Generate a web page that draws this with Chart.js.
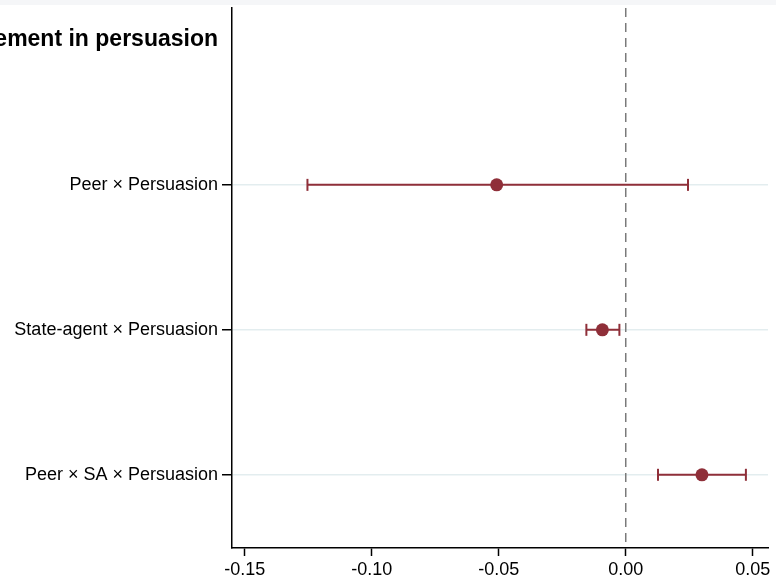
<!DOCTYPE html>
<html>
<head>
<meta charset="utf-8">
<script src="https://cdn.jsdelivr.net/npm/chart.js@4"></script>
<style>
  html, body { margin: 0; padding: 0; background: #fff; }
  #wrap { width: 776px; height: 579px; }
</style>
</head>
<body>
<div id="wrap"><canvas id="graficoCoef" width="776" height="579"></canvas></div>
<script>
// dados do gráfico
var groupLabel = 'Engagement in persuasion';
var terms = ['Peer × Persuasion', 'State-agent × Persuasion', 'Peer × SA × Persuasion'];
var estimates = [-0.0508, -0.0092, 0.0300];
var lower = [-0.1253, -0.0155, 0.0127];
var upper = [0.0245, -0.0025, 0.0473];
var xTicks = [-0.15, -0.10, -0.05, 0.00, 0.05];

var red = '#8f2f39';
var fonte = 'Liberation Sans, Arial, sans-serif';

// uma linha de intervalo por termo
var datasets = [];
terms.forEach(function (t, i) {
    datasets.push({
        label: t + ' CI',
        data: [{ x: lower[i], y: i + 1 }, { x: upper[i], y: i + 1 }],
        showLine: true,
        borderColor: red,
        borderWidth: 2,
        pointStyle: 'line',
        rotation: 90,
        pointRadius: 6,
        pointBorderWidth: 2,
        pointBorderColor: red
    });
});
datasets.push({
    label: 'Estimate',
    data: estimates.map(function (v, i) { return { x: v, y: i + 1 }; }),
    showLine: false,
    pointRadius: 6.5,
    backgroundColor: red,
    borderColor: red,
    borderWidth: 0
});

// linha tracejada no zero + fundo
var zeroLine = {
    id: 'zeroLine',
    beforeDraw: function (chart) {
        var c = chart.ctx;
        c.save();
        c.fillStyle = '#ffffff';
        c.fillRect(0, 0, chart.width, chart.height);
        c.fillStyle = '#f5f6f8';
        c.fillRect(0, 0, chart.width, 5);
        c.restore();
    },
    beforeDatasetsDraw: function (chart) {
        var c = chart.ctx, a = chart.chartArea;
        var x = chart.scales.x.getPixelForValue(0);
        c.save();
        c.strokeStyle = '#7a7a7a';
        c.lineWidth = 1.5;
        c.setLineDash([9, 6]);
        c.beginPath();
        c.moveTo(x, a.top);
        c.lineTo(x, a.bottom);
        c.stroke();
        c.restore();
    }
};

var ctx = document.getElementById('graficoCoef').getContext('2d');
new Chart(ctx, {
    type: 'scatter',
    data: { datasets: datasets },
    plugins: [zeroLine],
    options: {
        responsive: false,
        animation: false,
        layout: { padding: { top: 6, right: 4, left: 0, bottom: 0 } },
        plugins: { legend: { display: false }, tooltip: { enabled: false } },
        scales: {
            x: {
                type: 'linear',
                min: -0.155,
                max: 0.056,
                afterBuildTicks: function (s) { s.ticks = xTicks.map(function (v) { return { value: v }; }); },
                afterFit: function (s) { s.height = 31; },
                grid: { drawOnChartArea: false, drawTicks: true, tickLength: 8, tickColor: '#000', tickWidth: 1.5 },
                border: { color: '#000', width: 1.5 },
                ticks: {
                    padding: 3,
                    color: '#000',
                    font: { family: fonte, size: 18 },
                    callback: function (v) { return v.toFixed(2); }
                }
            },
            y: {
                type: 'linear',
                reverse: true,
                min: -0.22,
                max: 3.505,
                afterBuildTicks: function (s) { s.ticks = [0, 1, 2, 3].map(function (v) { return { value: v }; }); },
                afterFit: function (s) { s.width = 232; s.paddingTop = 0; s.paddingBottom = 0; },
                grid: {
                    tickLength: 10,
                    lineWidth: 1.5,
                    tickWidth: 1.5,
                    color: function (c) { return c.tick && c.tick.value === 0 ? 'rgba(0,0,0,0)' : '#e3edef'; },
                    tickColor: function (c) { return c.tick && c.tick.value === 0 ? 'rgba(0,0,0,0)' : '#000'; }
                },
                border: { color: '#000', width: 1.5 },
                ticks: {
                    padding: 4,
                    color: '#000',
                    autoSkip: false,
                    font: function (c) {
                        if (c.tick && c.tick.value === 0) {
                            return { family: fonte, size: 23, weight: 'bold' };
                        }
                        return { family: fonte, size: 18 };
                    },
                    callback: function (v) { return v === 0 ? groupLabel : terms[v - 1]; }
                }
            }
        }
    }
});
</script>
</body>
</html>
